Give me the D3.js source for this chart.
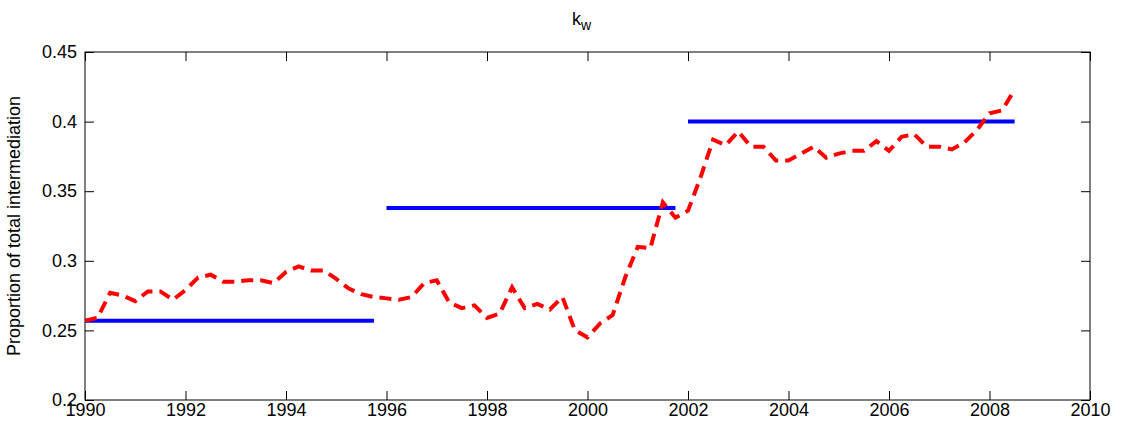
<!DOCTYPE html>
<meta charset="utf-8">
<html>
<head>
<style>
  body { margin: 0; background: #fff; }
  text { font-family: "Liberation Sans", Arial, sans-serif; }
</style>
</head>
<body>
<svg id="chart" width="1129" height="436"></svg>
<script src="https://cdnjs.cloudflare.com/ajax/libs/d3/7.8.5/d3.min.js"></script>
<script>
// quarterly series, starting 1990Q1
const startYear = 1990;
const kw = [0.257, 0.259, 0.277, 0.275, 0.271, 0.278, 0.278, 0.272, 0.279, 0.288,
  0.290, 0.285, 0.285, 0.286, 0.286, 0.284, 0.292, 0.296, 0.293, 0.293,
  0.287, 0.280, 0.276, 0.274, 0.273, 0.272, 0.274, 0.284, 0.286, 0.270,
  0.266, 0.268, 0.259, 0.262, 0.281, 0.266, 0.269, 0.265, 0.274, 0.250,
  0.245, 0.255, 0.261, 0.288, 0.310, 0.309, 0.342, 0.331, 0.336, 0.360,
  0.387, 0.383, 0.393, 0.382, 0.382, 0.372, 0.372, 0.377, 0.382, 0.374,
  0.377, 0.379, 0.379, 0.386, 0.379, 0.389, 0.391, 0.382, 0.382, 0.380,
  0.385, 0.394, 0.406, 0.408, 0.423];
// period averages: [from, to, value]
const periods = [[1990, 1995.75, 0.257], [1996, 2001.75, 0.338], [2002, 2008.5, 0.400]];
const xTicks = d3.range(1990, 2011, 2);
const yTicks = [0.2, 0.25, 0.3, 0.35, 0.4, 0.45];

const svg = d3.select('#chart');
const m = { left: 85, right: 1090, top: 52, bottom: 400 };

const x = d3.scaleLinear().domain([1990, 2010]).range([m.left, m.right]);
const y = d3.scaleLinear().domain([0.2, 0.45]).range([m.bottom, m.top]);

// box
svg.append('rect')
  .attr('x', m.left).attr('y', m.top)
  .attr('width', m.right - m.left).attr('height', m.bottom - m.top)
  .attr('fill', 'none').attr('stroke', '#000').attr('stroke-width', 1);

const tickLen = 9;
const xb = svg.append('g').attr('transform', `translate(0,${m.bottom})`)
  .call(d3.axisBottom(x).tickValues(xTicks).tickFormat(d3.format('d')).tickSizeInner(-tickLen).tickSizeOuter(0).tickPadding(3));
const xt = svg.append('g').attr('transform', `translate(0,${m.top})`)
  .call(d3.axisTop(x).tickValues(xTicks).tickFormat('').tickSizeInner(-tickLen).tickSizeOuter(0));
const yl = svg.append('g').attr('transform', `translate(${m.left},0)`)
  .call(d3.axisLeft(y).tickValues(yTicks).tickFormat(d => d3.format('')(+d.toFixed(2))).tickSizeInner(-tickLen).tickSizeOuter(0).tickPadding(8));
const yr = svg.append('g').attr('transform', `translate(${m.right},0)`)
  .call(d3.axisRight(y).tickValues(yTicks).tickFormat('').tickSizeInner(-tickLen).tickSizeOuter(0));

[xb, xt, yl, yr].forEach(g => {
  g.select('.domain').remove();
  g.selectAll('line').attr('stroke', '#000');
  g.selectAll('text').attr('font-size', 18).attr('fill', '#000');
});

// period averages
svg.selectAll('.avg').data(periods).enter().append('line')
  .attr('x1', d => x(d[0])).attr('x2', d => x(d[1]))
  .attr('y1', d => y(d[2])).attr('y2', d => y(d[2]))
  .attr('stroke', '#0000ff').attr('stroke-width', 4);

// kw series
const line = d3.line().x((d, i) => x(startYear + i / 4)).y(d => y(d));
svg.append('path').datum(kw)
  .attr('d', line).attr('fill', 'none')
  .attr('stroke', '#ff0000').attr('stroke-width', 4)
  .attr('stroke-dasharray', '12,7');

// title
const title = svg.append('text').attr('x', x(2000) - 6).attr('y', 25)
  .attr('font-size', 18).attr('text-anchor', 'middle');
title.append('tspan').text('k');
title.append('tspan').attr('dy', 5).attr('font-size', 14).text('w');

svg.append('text')
  .attr('transform', `translate(20,${(m.top + m.bottom) / 2}) rotate(-90)`)
  .attr('text-anchor', 'middle').attr('font-size', 18)
  .text('Proportion of total intermediation');
</script>
</body>
</html>
